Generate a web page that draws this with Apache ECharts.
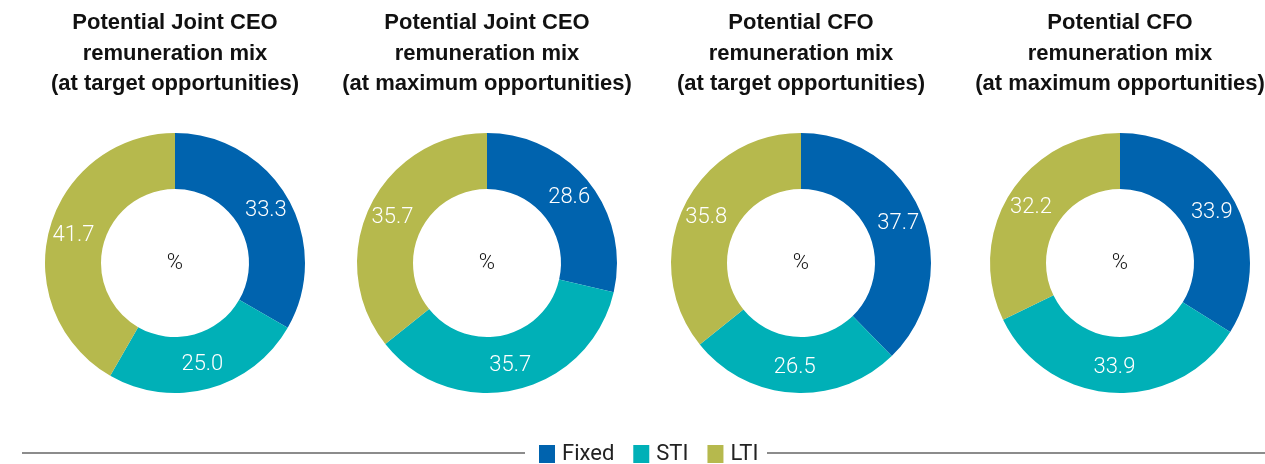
<!DOCTYPE html>
<html>
<head>
<meta charset="utf-8">
<script src="https://cdn.jsdelivr.net/npm/echarts@6/dist/echarts.min.js"></script>
<style>
  html, body { margin: 0; padding: 0; background: #fff; }
  #chart { width: 1265px; height: 464px; }
</style>
</head>
<body>
<div id="chart"></div>
<script>
// Remuneration mix categories and colours
const categories = ['Fixed', 'STI', 'LTI'];
const colors = ['#0063AE', '#00B0B7', '#B6B94D'];

// Panel titles
const titles = [
  'Potential Joint CEO\nremuneration mix\n(at target opportunities)',
  'Potential Joint CEO\nremuneration mix\n(at maximum opportunities)',
  'Potential CFO\nremuneration mix\n(at target opportunities)',
  'Potential CFO\nremuneration mix\n(at maximum opportunities)'
];

// Percentage shares per panel (Fixed, STI, LTI)
const jointCeoTarget = [33.3, 25.0, 41.7];
const jointCeoMaximum = [28.6, 35.7, 35.7];
const cfoTarget = [37.7, 26.5, 35.8];
const cfoMaximum = [33.9, 33.9, 32.2];
const panels = [jointCeoTarget, jointCeoMaximum, cfoTarget, cfoMaximum];

const centersX = [175, 487, 801, 1120];
const centerY = 263;
const font = 'Roboto, "Liberation Sans", Arial, sans-serif';

const chart = echarts.init(document.getElementById('chart'), null, { renderer: 'canvas' });

const titleOpts = [];
const seriesOpts = [];
panels.forEach((vals, i) => {
  titleOpts.push({
    text: titles[i],
    left: centersX[i],
    top: 8,
    padding: 0,
    textAlign: 'center',
    textStyle: { fontFamily: '"Liberation Sans", Arial, sans-serif', fontWeight: 'bold', fontSize: 22, lineHeight: 30.5, color: '#111' }
  });
  titleOpts.push({
    text: '%',
    left: centersX[i],
    top: centerY - 11,
    padding: 0,
    textAlign: 'center',
    textStyle: { fontFamily: font, fontWeight: 300, fontSize: 22, color: '#111' }
  });
  seriesOpts.push({
    type: 'pie',
    name: titles[i],
    center: [centersX[i], centerY],
    radius: [74, 130],
    startAngle: 90,
    clockwise: true,
    avoidLabelOverlap: false,
    silent: true,
    label: {
      show: true,
      position: 'inside',
      color: '#fff',
      fontFamily: font,
      fontWeight: 300,
      fontSize: 22,
      formatter: p => p.value.toFixed(1)
    },
    labelLine: { show: false },
    itemStyle: { borderWidth: 0 },
    data: categories.map((c, k) => ({ name: c, value: vals[k], itemStyle: { color: colors[k] } }))
  });
});

chart.setOption({
  animation: false,
  title: titleOpts,
  legend: {
    data: categories,
    left: 539,
    top: 443,
    padding: 0,
    icon: 'rect',
    itemWidth: 16,
    itemHeight: 18,
    itemGap: 19,
    selectedMode: false,
    textStyle: { fontFamily: font, fontSize: 22, color: '#222', padding: [0, 0, 0, 2] }
  },
  graphic: [
    { type: 'line', shape: { x1: 22, y1: 453, x2: 525, y2: 453 }, style: { stroke: '#666', lineWidth: 1.5 } },
    { type: 'line', shape: { x1: 767, y1: 453, x2: 1265, y2: 453 }, style: { stroke: '#666', lineWidth: 1.5 } }
  ],
  series: seriesOpts
});
</script>
</body>
</html>
